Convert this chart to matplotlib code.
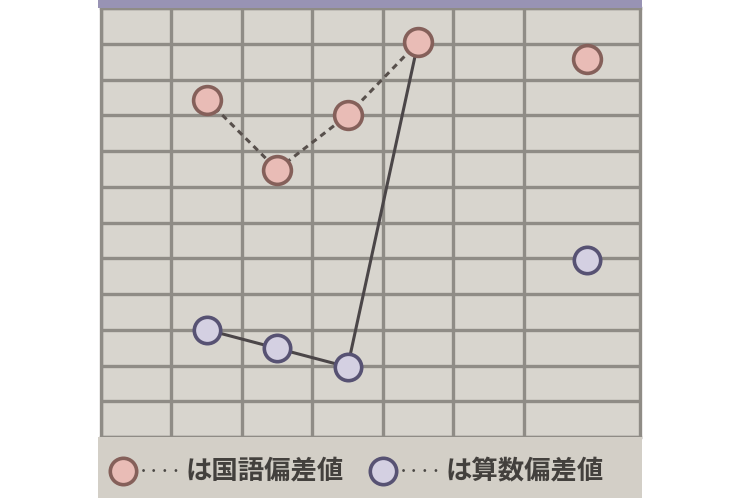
import matplotlib
matplotlib.use("Agg")
import matplotlib.pyplot as plt
from matplotlib.patches import Rectangle
from matplotlib.lines import Line2D
import numpy as np

plt.rcParams['font.family'] = ['Noto Sans CJK JP', 'DejaVu Sans']

# data (column position, deviation values)
col_pos = [1.5, 2.5, 3.5, 4.5, 6.9]
kokugo = [58.6, 53.7, 57.5, 62.6, 61.4]          # 国語偏差値
sansu = [42.5, 41.2, 39.9, 62.6, 47.4]           # 算数偏差値
connected = 4                                     # first 4 points are joined
legend_dots = '・・・・'
legend_labels = ['は国語偏差値', 'は算数偏差値']

W, H = 740, 498
fig = plt.figure(figsize=(W / 100, H / 100), dpi=100)
fig.patch.set_facecolor('white')

L, R, T, B = 101, 640, 8, 437
ax = fig.add_axes([L / W, (H - B) / H, (R - L) / W, (B - T) / H])
ax.set_facecolor('#d8d5ce')

# paper strip behind legend and purple band at top
fig.patches.append(Rectangle((98 / W, 0), (642 - 98) / W, (H - B) / H,
                             transform=fig.transFigure, facecolor='#d3cfc7',
                             edgecolor='none', zorder=0))
fig.patches.append(Rectangle((98 / W, (H - T) / H), (642 - 98) / W, T / H,
                             transform=fig.transFigure, facecolor='#9893b4',
                             edgecolor='none', zorder=0))

ax.set_xlim(0, 7.65)
ax.set_ylim(35, 65)
ax.set_xticks(np.arange(0, 7, 1))
ax.set_yticks(np.arange(35, 65.1, 2.5))
ax.grid(True, color='#8f8c86', linewidth=2.4)
ax.tick_params(length=0, labelbottom=False, labelleft=False)
for s in ax.spines.values():
    s.set_color('#8f8c86')
    s.set_linewidth(2.4)
ax.set_axisbelow(True)

ax.plot(col_pos[:connected], sansu[:connected], color='#4b4648', lw=2.2,
        solid_capstyle='round', zorder=3)
ax.plot(col_pos[:connected], kokugo[:connected], color='#58504c', lw=2.2,
        linestyle=(0, (2, 1.6)), zorder=3)

ax.plot(col_pos, sansu, linestyle='none', marker='o', markersize=19,
        markerfacecolor='#d4d0e2', markeredgecolor='#575273',
        markeredgewidth=2.6, zorder=4)
ax.plot(col_pos, kokugo, linestyle='none', marker='o', markersize=20,
        markerfacecolor='#e9bcb6', markeredgecolor='#85605a',
        markeredgewidth=2.6, zorder=5)

# legend
face = ['#e9bcb6', '#d4d0e2']
edge = ['#85605a', '#575273']
mx = [123, 383]
ly = (H - 471) / H
for i in range(2):
    fig.add_artist(Line2D([mx[i] / W], [ly], marker='o', markersize=19,
                          markerfacecolor=face[i], markeredgecolor=edge[i],
                          markeredgewidth=2.6, transform=fig.transFigure))
    fig.text((mx[i] + 15) / W, ly, legend_dots, ha='left', va='center',
             fontsize=8, color='#4a4744', fontweight='bold')
    fig.text((mx[i] + 62) / W, ly, legend_labels[i], ha='left',
             va='center', fontsize=19, color='#43403d', fontweight='bold')

fig.savefig('out.png', dpi=100)
